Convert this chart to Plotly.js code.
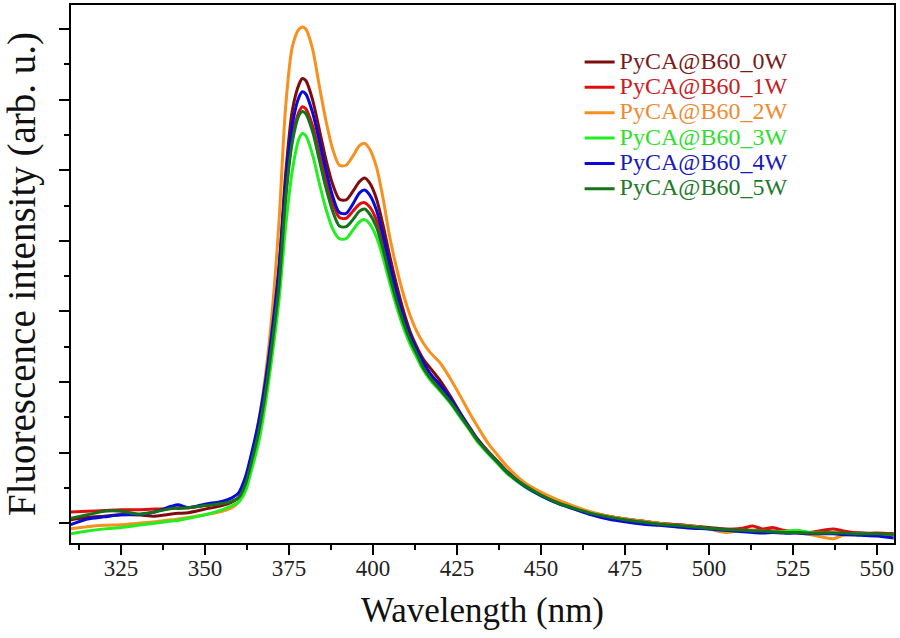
<!DOCTYPE html>
<html>
<head>
<meta charset="utf-8">
<script src="https://cdn.plot.ly/plotly-3.0.1.min.js"></script>
<style>html,body{margin:0;padding:0;background:#fff;}#chart{width:900px;height:638px;}</style>
</head>
<body>
<div id="chart"></div>
<script>
const wavelength = [310,315,320,325,330,335,340,342,345,350,355,358,360,362,364,366,368,370,372,374,376,378,379,380,382,384,386,388,390,392,394,396,397.5,399,401,403,405,407,409,411,413,415,417,420,423,426,429,431,434,437,440,445,450,455,460,465,470,475,480,485,490,495,500,505,510,513,516,519,522,526,530,534,537,540,545,550,555];

const pyca0W = [0.05,0.08,0.10,0.12,0.12,0.10,0.13,0.14,0.15,0.20,0.25,0.30,0.36,0.58,0.95,1.38,1.98,2.75,3.62,4.95,5.85,6.22,6.30,6.27,6.00,5.58,5.15,4.80,4.59,4.58,4.70,4.84,4.89,4.82,4.60,4.22,3.78,3.38,3.02,2.72,2.50,2.32,2.20,2.02,1.80,1.56,1.34,1.20,1.03,0.88,0.73,0.55,0.41,0.30,0.22,0.15,0.10,0.06,0.03,0.00,-0.02,-0.04,-0.06,-0.08,-0.09,-0.10,-0.10,-0.11,-0.12,-0.13,-0.13,-0.13,-0.14,-0.14,-0.14,-0.15,-0.15];

const pyca1W = [0.16,0.17,0.18,0.19,0.19,0.20,0.21,0.22,0.22,0.25,0.28,0.31,0.36,0.56,0.92,1.32,1.88,2.60,3.42,4.65,5.47,5.83,5.90,5.87,5.63,5.25,4.85,4.53,4.33,4.32,4.42,4.52,4.54,4.48,4.30,3.97,3.60,3.22,2.90,2.62,2.42,2.25,2.12,1.94,1.75,1.53,1.33,1.19,1.03,0.88,0.73,0.55,0.41,0.30,0.22,0.15,0.10,0.06,0.03,0.00,-0.02,-0.04,-0.07,-0.09,-0.07,-0.04,-0.08,-0.06,-0.10,-0.12,-0.13,-0.10,-0.08,-0.11,-0.14,-0.14,-0.15];

const pyca2W = [-0.08,-0.05,-0.03,-0.02,0.00,0.02,0.05,0.06,0.08,0.12,0.17,0.22,0.30,0.55,0.95,1.45,2.10,3.00,4.25,5.90,6.75,7.00,7.03,7.00,6.72,6.20,5.70,5.30,5.07,5.07,5.20,5.35,5.38,5.30,5.05,4.60,4.05,3.62,3.25,2.95,2.72,2.55,2.42,2.27,2.05,1.80,1.54,1.38,1.15,0.97,0.80,0.58,0.44,0.33,0.24,0.16,0.10,0.06,0.03,0.00,-0.03,-0.04,-0.08,-0.13,-0.10,-0.11,-0.11,-0.12,-0.13,-0.14,-0.16,-0.20,-0.22,-0.17,-0.16,-0.16,-0.17];

const pyca3W = [-0.15,-0.11,-0.08,-0.06,-0.03,0.00,0.03,0.04,0.07,0.12,0.19,0.25,0.30,0.45,0.78,1.15,1.70,2.38,3.15,4.20,5.00,5.45,5.52,5.49,5.22,4.82,4.45,4.17,4.03,4.03,4.15,4.27,4.30,4.24,4.06,3.76,3.40,3.07,2.78,2.54,2.35,2.17,2.03,1.87,1.70,1.50,1.30,1.16,1.00,0.85,0.70,0.52,0.39,0.28,0.20,0.13,0.08,0.04,0.01,-0.02,-0.04,-0.06,-0.08,-0.10,-0.11,-0.11,-0.12,-0.12,-0.12,-0.10,-0.13,-0.14,-0.14,-0.15,-0.15,-0.16,-0.16];

const pyca4W = [-0.02,0.06,0.09,0.12,0.12,0.16,0.24,0.26,0.22,0.27,0.31,0.36,0.43,0.65,1.02,1.45,2.02,2.75,3.60,4.80,5.65,6.04,6.11,6.08,5.82,5.42,5.00,4.63,4.40,4.39,4.52,4.68,4.72,4.65,4.44,4.08,3.66,3.27,2.93,2.66,2.46,2.28,2.12,1.96,1.77,1.55,1.33,1.19,1.02,0.87,0.72,0.53,0.39,0.28,0.20,0.12,0.06,0.02,-0.01,-0.03,-0.05,-0.07,-0.08,-0.10,-0.12,-0.13,-0.14,-0.13,-0.14,-0.14,-0.15,-0.15,-0.15,-0.16,-0.17,-0.18,-0.21];

const pyca5W = [0.07,0.12,0.17,0.17,0.13,0.16,0.21,0.21,0.22,0.25,0.28,0.31,0.36,0.55,0.90,1.30,1.85,2.55,3.35,4.60,5.40,5.78,5.83,5.80,5.55,5.15,4.75,4.42,4.21,4.20,4.30,4.42,4.45,4.38,4.20,3.88,3.50,3.15,2.85,2.60,2.40,2.20,2.06,1.89,1.72,1.52,1.32,1.18,1.02,0.87,0.72,0.54,0.40,0.29,0.21,0.14,0.09,0.05,0.02,-0.01,-0.03,-0.05,-0.07,-0.09,-0.10,-0.11,-0.11,-0.12,-0.13,-0.13,-0.14,-0.14,-0.14,-0.14,-0.15,-0.15,-0.16];

const seriesNames = ['PyCA@B60_0W','PyCA@B60_1W','PyCA@B60_2W','PyCA@B60_3W','PyCA@B60_4W','PyCA@B60_5W'];
const seriesValues = [pyca0W, pyca1W, pyca2W, pyca3W, pyca4W, pyca5W];
const lineColors = ['#7f0c0c','#e00d0d','#f7901e','#22ee22','#0a0ad8','#13731a'];
const textColors = ['#7a1a1a','#c8201e','#f08a30','#2ee02e','#1a1ab8','#1f7a2a'];

const traces = seriesNames.map((n, i) => ({
  x: wavelength,
  y: seriesValues[i],
  type: 'scatter',
  mode: 'lines',
  name: '<span style="font-size:24px;fill:' + textColors[i] + '">' + n + '</span>',
  line: {color: lineColors[i], width: 3, shape: 'spline', smoothing: 0.8}
}));

const serif = 'Liberation Serif, Times New Roman, serif';

const layout = {
  width: 900, height: 638,
  margin: {l: 71, r: 6, t: 5, b: 95},
  paper_bgcolor: '#ffffff', plot_bgcolor: '#ffffff',
  showlegend: true,
  legend: {
    x: 0.618, xanchor: 'left', y: 0.927, yanchor: 'top',
    bgcolor: 'rgba(0,0,0,0)', borderwidth: 0,
    font: {family: serif, size: 17.2, color: '#333'}
  },
  xaxis: {
    range: [310.1, 555.1],
    tick0: 325, dtick: 25,
    ticks: 'outside', ticklen: 10, tickwidth: 2, tickcolor: '#000',
    minor: {dtick: 12.5, tick0: 312.5, ticks: 'outside', ticklen: 5, tickwidth: 2, tickcolor: '#000'},
    showline: true, linecolor: '#000', linewidth: 2, mirror: true,
    showgrid: false, zeroline: false,
    ticklabelstandoff: -7,
    tickfont: {family: serif, size: 23, color: '#222'},
    title: {text: 'Wavelength (nm)', font: {family: serif, size: 35, color: '#111'}, standoff: 18}
  },
  yaxis: {
    range: [-0.28, 7.34],
    tick0: 0, dtick: 1,
    ticks: 'outside', ticklen: 10, tickwidth: 2, tickcolor: '#000',
    minor: {dtick: 0.5, ticks: 'outside', ticklen: 5, tickwidth: 2, tickcolor: '#000'},
    showticklabels: false,
    showline: true, linecolor: '#000', linewidth: 2, mirror: true,
    showgrid: false, zeroline: false,
    title: {text: 'Fluorescence intensity (arb. u.)', font: {family: serif, size: 39, color: '#111'}, standoff: 17}
  }
};

Plotly.newPlot('chart', traces, layout, {displayModeBar: false, staticPlot: true});
</script>
</body>
</html>
